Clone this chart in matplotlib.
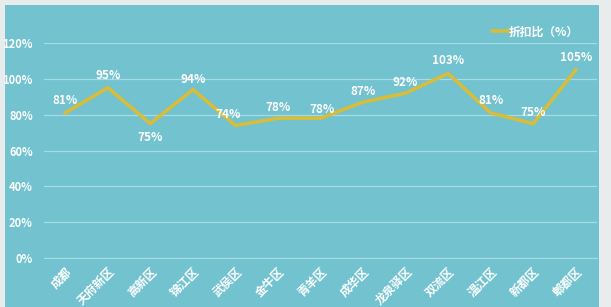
import matplotlib.pyplot as plt
from matplotlib.patches import Rectangle
from matplotlib.ticker import FuncFormatter

plt.rcParams['font.family'] = ['Noto Sans CJK SC', 'DejaVu Sans']

districts = ['成都', '天府新区', '高新区', '锦江区', '武侯区', '金牛区', '青羊区',
             '成华区', '龙泉驿区', '双流区', '温江区', '新都区', '郫都区']
discount = [81, 95, 75, 94, 74, 78, 78, 87, 92, 103, 81, 75, 105]
# label offsets in points (dx, dy)
label_offsets = [(0, 9), (0, 9), (0, -10), (0, 7), (-5, 8), (0, 8), (1, 6),
                 (0, 8), (0, 8), (0, 9), (0, 9), (0, 8), (0, 9)]

teal = '#72C2CF'
gold = '#D6BD3C'
grid = '#A6DCE5'

fig = plt.figure(figsize=(6.11, 3.07), dpi=100, facecolor='#E9ECEC')
fig.add_artist(Rectangle((5 / 611, 0), 594 / 611, 302 / 307, transform=fig.transFigure,
                         facecolor=teal, edgecolor='none', zorder=-5))
ax = fig.add_axes([44 / 611, 49 / 307, 553 / 611, 215 / 307])
ax.patch.set_alpha(0)

x = range(len(districts))
vals = [v / 100 for v in discount]
ax.plot(x, vals, color=gold, lw=2.6, label='折扣比（%）', solid_joinstyle='miter')

for i, v in enumerate(discount):
    dx, dy = label_offsets[i]
    ax.annotate(f'{v}%', (i, v / 100), xytext=(dx, dy), textcoords='offset points',
                ha='center', va='center', color='white', fontsize=8.5, fontweight='bold')

ax.set_xlim(-0.5, len(districts) - 0.5)
ax.set_ylim(0, 1.2)
ax.set_yticks([0, 0.2, 0.4, 0.6, 0.8, 1.0, 1.2])
ax.yaxis.set_major_formatter(FuncFormatter(lambda v, p: f'{v * 100:.0f}%'))
ax.grid(axis='y', color=grid, lw=0.9)
ax.set_axisbelow(True)
for s in ['top', 'right', 'left']:
    ax.spines[s].set_visible(False)
ax.spines['bottom'].set_color(grid)
ax.tick_params(length=0, colors='white', labelsize=8)
ax.tick_params(axis='y', pad=8)
ax.tick_params(axis='x', labelsize=8.5, pad=5)
ax.set_xticks(list(x))
ax.set_xticklabels(districts, rotation=45, ha='right', rotation_mode='anchor',
                   fontweight='bold')
for t in ax.get_yticklabels():
    t.set_fontweight('bold')

leg = fig.legend(loc='center right', bbox_to_anchor=(585 / 611, 1 - 32 / 307), frameon=False,
                 fontsize=8.5, handlelength=1.3, handletextpad=0.1, borderpad=0)
for t in leg.get_texts():
    t.set_color('white')
    t.set_fontweight('bold')

fig.savefig('out.png', dpi=100, facecolor=fig.get_facecolor())
